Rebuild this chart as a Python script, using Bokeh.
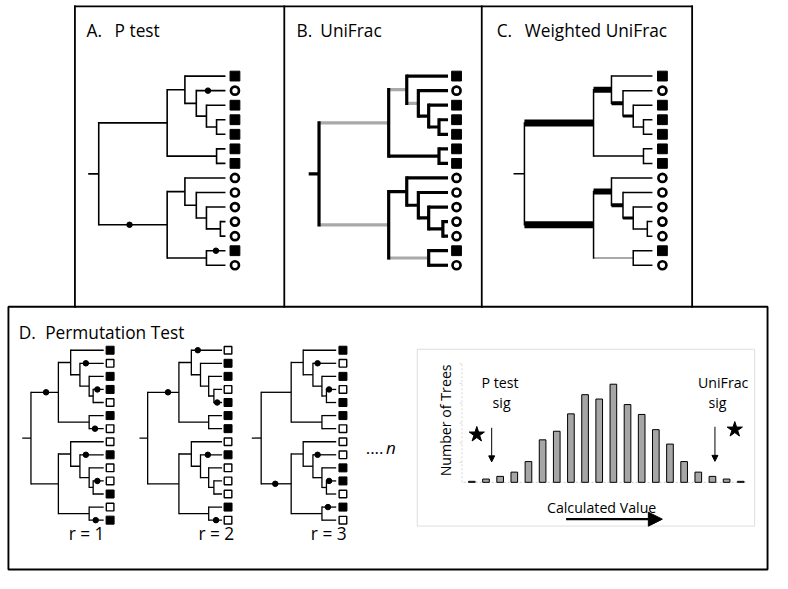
import math
from bokeh.plotting import figure
from bokeh.models import Range1d, ColumnDataSource, Arrow, NormalHead
from bokeh.core.properties import value
from bokeh.embed import file_html
from bokeh.resources import INLINE

# ---------------- data ----------------
# shared tree topology (internal node -> two children)
LEAVES = [f"L{i}" for i in range(1, 15)]
INTERNAL = ["root", "T", "T1", "T2", "T3", "T4", "T6", "U", "U1", "U2", "U3", "U4", "U6"]
CHILDREN = {
    "root": ["T", "U"],
    "T": ["T1", "T6"], "T1": ["L1", "T2"], "T2": ["L2", "T3"], "T3": ["L3", "T4"],
    "T4": ["L4", "L5"], "T6": ["L6", "L7"],
    "U": ["U1", "U6"], "U1": ["L8", "U2"], "U2": ["L9", "U3"], "U3": ["L10", "U4"],
    "U4": ["L11", "L12"], "U6": ["L13", "L14"],
}

# node depth (fraction of root-to-tip distance), order of INTERNAL
depth_abc = [0, .54, .68, .77, .85, .93, .93, .54, .68, .77, .85, .96, .85]
depth_r1 = [0, .377, .546, .673, .80, .855, .80, .377, .546, .673, .80, .855, .80]
depth_r2 = [0, .42, .587, .71, .82, .89, .82, .42, .587, .71, .82, .89, .82]
depth_r3 = [0, .40, .56, .69, .81, .87, .81, .40, .56, .69, .81, .87, .81]

# leaf states: S filled square, O open circle, E empty square
states_abc = "SOSSSSSOOOOOSO"
states_r1 = "SESSESEESEESES"
states_r2 = "ESSESSSESEEESE"
states_r3 = "SESESSEEESSESE"

# character changes (branch, fraction along branch)
dots_A = [("L2", .4), ("U", .45), ("L13", .5)]
dots_r1 = [("T", .55), ("L2", .25), ("L4", .4), ("L7", .4), ("L9", .25), ("L11", .4), ("L14", .45)]
dots_r2 = [("T", .65), ("L1", .21), ("L5", .4), ("L9", .34), ("L14", .55)]
dots_r3 = [("L2", .2), ("L4", .27), ("U", .47), ("L9", .2), ("L11", .27), ("L13", .42)]

# UniFrac: unique (gray) branches; weighted UniFrac: branch weights
unifrac_gray = ["T", "T1", "T2", "U", "U6"]
wunifrac_weight = {"T": 7, "U": 7, "T1": 6, "U1": 6, "T2": 4, "U2": 4, "T3": 3, "U3": 3}
wunifrac_gray = ["U6"]

# permutation histogram
hist_bins = list(range(1, 21))
hist_counts = [1, 3.3, 6, 10.3, 21, 43, 51.7, 69.3, 88.7, 84.3, 99.3, 78.7, 68.7, 53.3, 38.7, 21, 10.3, 6, 3.3, 1]

panel_letters = ["A.", "B.", "C.", "D."]
panel_titles = ["P test", "UniFrac", "Weighted UniFrac", "Permutation Test"]
perm_labels = ["r = 1", "r = 2", "r = 3"]

# ---------------- layout ----------------
W, H = 772, 573
RW, RH = 778, 580
FONT = value("Open Sans")

p = figure(width=W, height=H, x_range=Range1d(0, RW), y_range=Range1d(RH, 0),
           x_axis_type=None, y_axis_type=None, output_backend="svg",
           toolbar_location=None, min_border=0, outline_line_color=None)
p.background_fill_color = "white"
p.border_fill_color = "white"


def lin(v0, r0, v1, r1, lo, hi):
    k = (v1 - v0) / (r1 - r0)
    return Range1d(start=v0 + (lo - r0) * k, end=v0 + (hi - r0) * k)


p.extra_y_ranges["abc"] = lin(0, 76.5, 13, 268, RH, 0)
p.extra_y_ranges["perm"] = lin(0, 354, 13, 526, RH, 0)
TREE_X = {"A": (99, 226.7), "B": (321, 451), "C": (528, 657),
          "r1": (30.7, 104), "r2": (148.3, 223.3), "r3": (262.7, 338.3)}
for nm, (rx, tx) in TREE_X.items():
    p.extra_x_ranges[nm] = lin(0, rx, 1, tx, 0, RW)

# histogram ranges
p.extra_x_ranges["hx"] = lin(1, 475, 20, 746, 0, RW)
p.extra_y_ranges["hy"] = lin(0, 487.7, 100, 387.7, RH, 0)


def layout(depths):
    d = dict(zip(INTERNAL, depths))
    for lf in LEAVES:
        d[lf] = 1.0
    y = {lf: float(i) for i, lf in enumerate(LEAVES)}

    def gy(n):
        if n not in y:
            c0, c1 = CHILDREN[n]
            y[n] = (gy(c0) + gy(c1)) / 2
        return y[n]
    gy("root")
    parent = {c: n for n, cs in CHILDREN.items() for c in cs}
    return d, y, parent


def draw_tree(xn, yn, depths, states, dots, lw, stub, mdepth, sq, circ, esq,
              gray=(), weights=None, gray_lw=None):
    d, y, parent = layout(depths)
    h = dict(x0=[], y0=[], x1=[], y1=[], c=[], w=[])
    for n in INTERNAL[1:] + LEAVES:
        h["x0"].append(d[parent[n]]); h["x1"].append(d[n])
        h["y0"].append(y[n]); h["y1"].append(y[n])
        if n in gray:
            h["c"].append("#a9a9a9"); h["w"].append(gray_lw or lw)
        else:
            h["c"].append("black")
            h["w"].append(weights.get(n, lw) if weights else lw)
    h["x0"].append(stub); h["x1"].append(0); h["y0"].append(y["root"]); h["y1"].append(y["root"])
    h["c"].append("black"); h["w"].append(lw)
    p.segment("x0", "y0", "x1", "y1", source=ColumnDataSource(h), line_color="c",
              line_width="w", x_range_name=xn, y_range_name=yn)
    v = dict(x0=[], y0=[], x1=[], y1=[])
    for n in INTERNAL:
        c0, c1 = CHILDREN[n]
        v["x0"].append(d[n]); v["x1"].append(d[n]); v["y0"].append(y[c0]); v["y1"].append(y[c1])
    p.segment("x0", "y0", "x1", "y1", source=ColumnDataSource(v), line_color="black",
              line_width=lw, line_cap="square", x_range_name=xn, y_range_name=yn)
    # change dots
    if dots:
        dx = [d[parent[b]] + f * (d[b] - d[parent[b]]) for b, f in dots]
        dy = [y[b] for b, f in dots]
        p.scatter(dx, dy, marker="circle", size=5.5, fill_color="black", line_color="black",
                  x_range_name=xn, y_range_name=yn)
    # leaf markers
    for code, style in (("S", sq), ("O", circ), ("E", esq)):
        ys = [float(i) for i, s in enumerate(states) if s == code]
        if not ys or style is None:
            continue
        p.scatter([mdepth] * len(ys), ys, x_range_name=xn, y_range_name=yn, **style)


SQ_BIG = dict(marker="square", size=9.8, fill_color="black", line_color="black", line_width=1)
CIRC_BIG = dict(marker="circle", size=8, fill_color="white", line_color="black", line_width=2.7)
SQ_SM = dict(marker="square", size=8, fill_color="black", line_color="black", line_width=1)
ESQ_SM = dict(marker="square", size=7.6, fill_color="white", line_color="black", line_width=1.4)

draw_tree("A", "abc", depth_abc, states_abc, dots_A, 1.6, -0.083, 1.075, SQ_BIG, CIRC_BIG, None)
draw_tree("B", "abc", depth_abc, states_abc, [], 3.2, -0.08, 1.066, SQ_BIG, CIRC_BIG, None,
          gray=unifrac_gray)
draw_tree("C", "abc", depth_abc, states_abc, [], 1.5, -0.085, 1.078, SQ_BIG, CIRC_BIG, None,
          gray=wunifrac_gray, weights=wunifrac_weight, gray_lw=2)
draw_tree("r1", "perm", depth_r1, states_r1, dots_r1, 1.3, -0.12, 1.088, SQ_SM, None, ESQ_SM)
draw_tree("r2", "perm", depth_r2, states_r2, dots_r2, 1.3, -0.11, 1.08, SQ_SM, None, ESQ_SM)
draw_tree("r3", "perm", depth_r3, states_r3, dots_r3, 1.3, -0.125, 1.09, SQ_SM, None, ESQ_SM)

# panel frames
p.segment(x0=[75, 75, 286, 485, 697], y0=[6, 6, 6, 6, 6], x1=[697, 75, 286, 485, 697],
          y1=[6, 310, 310, 310, 310], line_color="black", line_width=1.8, line_cap="square")
p.quad(left=[8], right=[773], top=[310], bottom=[576], fill_color=None,
       line_color="black", line_width=1.9)

# panel titles
p.text(x=[86.7, 298.3, 500, 18.3], y=[30.5, 30.5, 30.5, 336], text=panel_letters,
       text_font=FONT, text_font_size="17.3px", text_baseline="alphabetic", text_color="black")
p.text(x=[115, 322.3, 528.3, 45], y=[30.5, 30.5, 30.5, 336], text=panel_titles,
       text_font=FONT, text_font_size="17.3px", text_baseline="alphabetic", text_color="black")
p.text(x=[86.7, 217.5, 330.8], y=[540, 540, 540], text=perm_labels, text_font=FONT,
       text_font_size="17.3px", text_baseline="alphabetic", text_align="center")
p.text(x=[368], y=[452.5], text=["...."], text_font=FONT, text_font_size="17px",
       text_baseline="alphabetic")
p.text(x=[388.5], y=[452.5], text=["n"], text_font=FONT, text_font_size="17px",
       text_font_style="italic", text_baseline="alphabetic")

# ---------------- histogram inset ----------------
p.quad(left=[420], right=[760], top=[353], bottom=[532], fill_color=None,
       line_color="#dedede", line_width=1)
p.segment(x0=[0.42], y0=[0], x1=[20.5], y1=[0], line_color="#c8c8c8", line_width=1,
          line_dash="2 2", x_range_name="hx", y_range_name="hy")
p.segment(x0=[0.3], y0=[0], x1=[0.3], y1=[120], line_color="#d8d8d8", line_width=1,
          line_dash="2 2", x_range_name="hx", y_range_name="hy")
yt = [20, 40, 60, 80, 100, 120]
p.segment(x0=[0.12] * 6, y0=yt, x1=[0.3] * 6, y1=yt, line_color="#dddddd", line_width=1,
          x_range_name="hx", y_range_name="hy")
p.vbar(x=hist_bins, top=hist_counts, bottom=0, width=0.47, fill_color="#a6a6a6",
       line_color="black", line_width=1, x_range_name="hx", y_range_name="hy")

p.text(x=[448.5], y=[425], text=["Number of Trees"], angle=math.pi / 2, text_font=FONT,
       text_font_size="14.2px", text_align="center", text_baseline="middle")
p.text(x=[503.5, 505, 728.3, 722.5], y=[387, 406.5, 387, 406.5],
       text=["P test", "sig", "UniFrac", "sig"], text_font=FONT, text_font_size="14.2px",
       text_align="center", text_baseline="alphabetic")
p.text(x=[605.8], y=[513], text=["Calculated Value"], text_font=FONT, text_font_size="14.2px",
       text_align="center", text_baseline="alphabetic")
p.scatter(x=[480, 740], y=[439.3, 434.3], marker="star", size=16, fill_color="black",
          line_color="black")
p.add_layout(Arrow(end=NormalHead(size=6, fill_color="black", line_width=1), x_start=495,
                   y_start=432.5, x_end=495, y_end=467, line_width=1))
p.add_layout(Arrow(end=NormalHead(size=6, fill_color="black", line_width=1), x_start=720,
                   y_start=431.5, x_end=720, y_end=466.5, line_width=1))
p.add_layout(Arrow(end=NormalHead(size=14, fill_color="black", line_width=1), x_start=570,
                   y_start=525, x_end=667, y_end=525, line_width=2.2))

open("out.html", "w").write(file_html(p, INLINE))
